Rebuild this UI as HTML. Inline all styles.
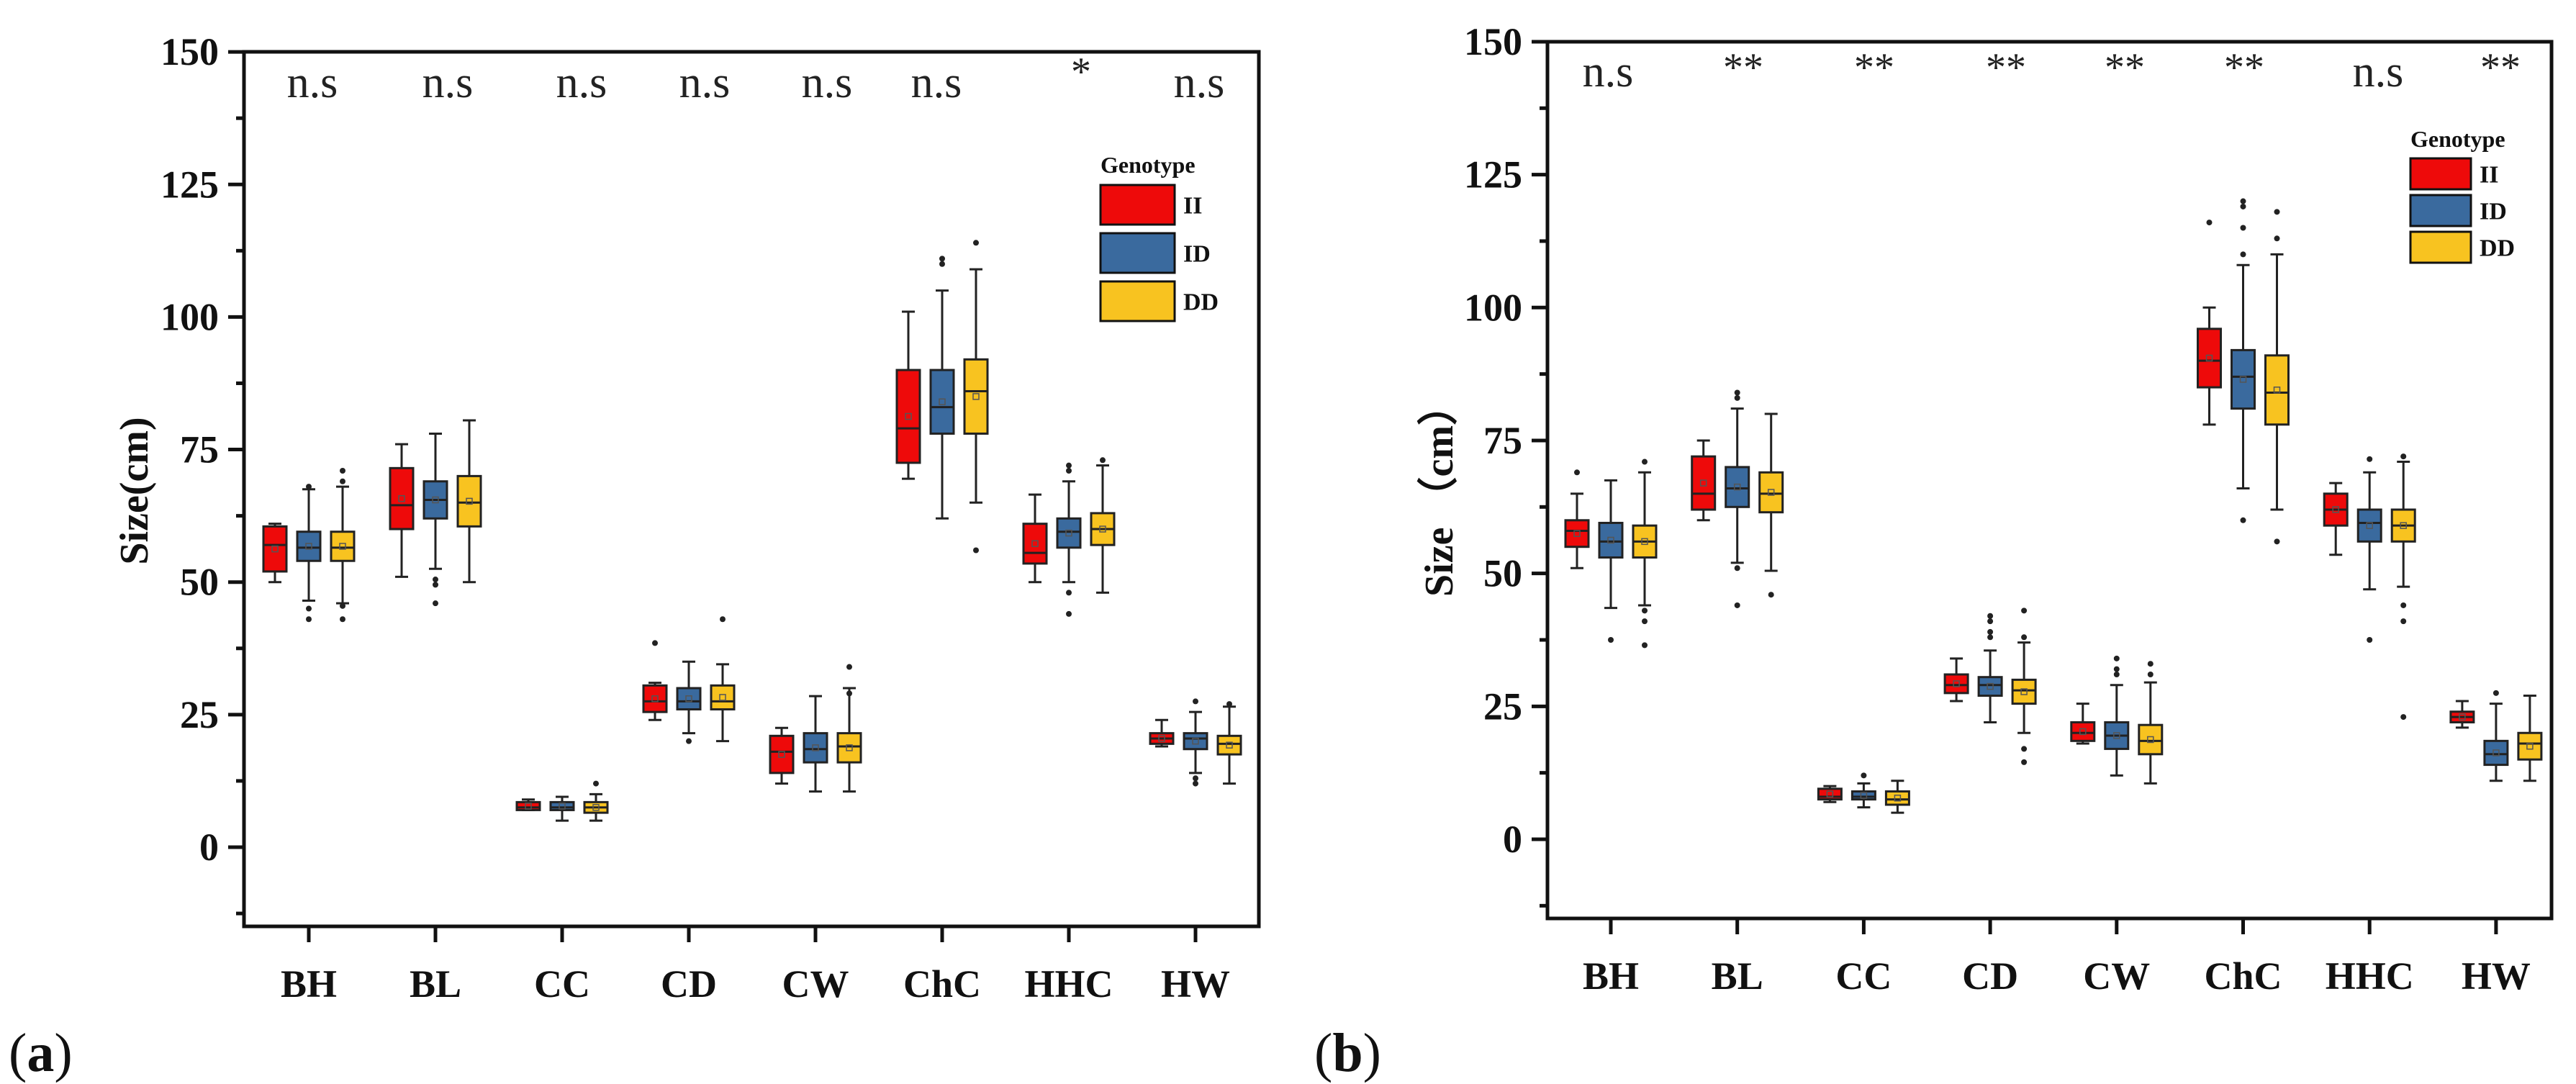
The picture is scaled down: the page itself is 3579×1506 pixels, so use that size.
<!DOCTYPE html>
<html><head><meta charset="utf-8"><style>
html,body{margin:0;padding:0;background:#fff;}
svg{display:block;font-family:"Liberation Serif","DejaVu Serif",serif;}
</style></head><body>
<svg id="fig" width="3579" height="1506" viewBox="0 0 3579 1506" xmlns="http://www.w3.org/2000/svg">
<rect width="3579" height="1506" fill="#fff"/>
</svg>
<script>
const categories = ["BH","BL","CC","CD","CW","ChC","HHC","HW"];
const genotypes = ["II","ID","DD"];
const yTicks = [0,25,50,75,100,125,150];
// [lowWhisker, q1, median, q3, highWhisker]
const aII = [[50,52,57,60.5,61],[51,60,64.5,71.5,76],[7,7,7.5,8.5,9],[24,25.5,27.5,30.5,31],[12,14,18,21,22.5],[69.5,72.5,79,90,101],[50,53.5,55.5,61,66.5],[19,19.5,20.5,21.5,24]];
const aID = [[46.5,54,56.5,59.5,67.5],[52.5,62,65.5,69,78],[5,7,7.5,8.5,9.5],[21.5,26,27.5,30,35],[10.5,16,18.5,21.5,28.5],[62,78,83,90,105],[50,56.5,59.5,62,69],[14,18.5,20.5,21.5,25.5]];
const aDD = [[46,54,56.5,59.5,68],[50,60.5,65,70,80.5],[5,6.5,7.5,8.5,10],[20,26,27.5,30.5,34.5],[10.5,16,19,21.5,30],[65,78,86,92,109],[48,57,60,63,72],[12,17.5,19.5,21,26.5]];
const aIIout = [[],[],[],[38.5],[],[],[],[]];
const aIDout = [[68,45,43],[50.5,49.5,46],[],[20],[],[110,111],[71,72,48,44],[27.5,13,12]];
const aDDout = [[71,69,45.5,43],[],[12],[43],[29,34],[56,114],[73],[27]];
const aSig = ["n.s","n.s","n.s","n.s","n.s","n.s","*","n.s"];

const bII = [[51,55,58,60,65],[60,62,65,72,75],[7,7.5,8,9.5,10],[26,27.5,29,31,34],[18,18.5,20,22,25.5],[78,85,90,96,100],[53.5,59,62,65,67],[21,22,23,24,26]];
const bID = [[43.5,53,56,59.5,67.5],[52,62.5,66,70,81],[6,7.5,8,9,10.5],[22,27,29,30.5,35.5],[12,17,19.5,22,29],[66,81,87,92,108],[47,56,59.5,62,69],[11,14,16,18.5,25.5]];
const bDD = [[44,53,56,59,69],[50.5,61.5,65,69,80],[5,6.5,7.5,9,11],[20,25.5,28,30,37],[10.5,16,18.5,21.5,29.5],[62,78,84,91,110],[47.5,56,59,62,71],[11,15,18,20,27]];
const bIIout = [[69],[],[],[],[],[116],[],[]];
const bIDout = [[37.5],[83,84,51,44],[12],[38,39,41,42],[31,32,34],[110,115,119,120,60],[71.5,37.5],[27.5]];
const bDDout = [[71,41,43,36.5],[46],[],[43,38,17,14.5],[31,33],[113,118,56],[72,44,41,23],[]];
const bSig = ["n.s","**","**","**","**","**","n.s","**"];

const colors = ["#ee0a0a","#3a6a9e","#f8c320"];
const NS="http://www.w3.org/2000/svg";
const svg=document.getElementById('fig');
function mk(tag,attrs,parent){const e=document.createElementNS(NS,tag);for(const k in attrs)e.setAttribute(k,attrs[k]);(parent||svg).appendChild(e);return e;}

function panel(cfg){
  const g=mk('g',{});
  
  
  const y=v=>cfg.y0-(v)*cfg.unit;
  const x=(i,k)=>cfg.cx0+i*cfg.step+(k-1)*47;
  const fr=mk('rect',{x:cfg.L,y:cfg.T,width:cfg.R-cfg.L,height:cfg.B-cfg.T,fill:'none',stroke:'#111','stroke-width':5},g);
  
  
  for(let v=-12.5;v<=150;v+=12.5){
    const major=(v%25===0);
    mk('line',{x1:cfg.L-(major?22:11),x2:cfg.L,y1:y(v),y2:y(v),stroke:'#111','stroke-width':5},g);
  }
  yTicks.forEach(v=>{
    const t=mk('text',{x:cfg.L-35,y:y(v)+18,'text-anchor':'end','font-size':54,'font-weight':'bold',fill:'#111'},g);
    t.textContent=v;
    
    
  });
  const yt=mk('text',{transform:`translate(${cfg.ytx},682) rotate(-90)`,'text-anchor':'middle','font-size':56,'font-weight':'bold',fill:'#111'},g);
  yt.textContent=cfg.ytitle;
  
  
  categories.forEach((c,i)=>{
    const cx=cfg.cx0+i*cfg.step;
    mk('line',{x1:cx,x2:cx,y1:cfg.B,y2:cfg.B+22,stroke:'#111','stroke-width':5},g);
    const t=mk('text',{x:cx,y:cfg.labY,'text-anchor':'middle','font-size':54,'font-weight':'bold',fill:'#111'},g);
    t.textContent=c;
    
    
    const s=mk('text',{x:cfg.sigX[i],y:cfg.sig[i]==='n.s'?cfg.nsY:cfg.stY,'text-anchor':'middle','font-size':cfg.sig[i]==='n.s'?62:56,fill:'#222'},g);
    s.textContent=cfg.sig[i];
    
    
  });
  const series=[cfg.II,cfg.ID,cfg.DD], outs=[cfg.IIo,cfg.IDo,cfg.DDo];
  const bw=32;
  series.forEach((ser,k)=>{
    ser.forEach((d,i)=>{
      const cx=x(i,k);
      const bg=mk('g',{},g);
      
      
      mk('line',{x1:cx,x2:cx,y1:y(d[0]),y2:y(d[4]),stroke:'#222','stroke-width':3},bg);
      mk('line',{x1:cx-9,x2:cx+9,y1:y(d[0]),y2:y(d[0]),stroke:'#222','stroke-width':3},bg);
      mk('line',{x1:cx-9,x2:cx+9,y1:y(d[4]),y2:y(d[4]),stroke:'#222','stroke-width':3},bg);
      mk('rect',{x:cx-bw/2,y:y(d[3]),width:bw,height:Math.max(2,y(d[1])-y(d[3])),fill:colors[k],stroke:'#222','stroke-width':3},bg);
      mk('line',{x1:cx-bw/2,x2:cx+bw/2,y1:y(d[2]),y2:y(d[2]),stroke:'#222','stroke-width':3},bg);
      mk('rect',{x:cx-4,y:y((d[1]+d[3])/2)-4,width:8,height:8,fill:'none',stroke:'#555','stroke-width':1.5},bg);
      outs[k][i].forEach(o=>{mk('circle',{cx:cx,cy:y(o),r:4,fill:'#222'},bg);});
    });
  });
  const lg=mk('g',{},g);
  
  
  const lt=mk('text',{x:cfg.lx,y:cfg.ly,'font-size':32,'font-weight':'bold',fill:'#111'},lg);
  lt.textContent='Genotype';
  genotypes.forEach((gt,k)=>{
    const e=mk('g',{},lg);
    
    
    const yy=cfg.ly+cfg.lgap0+k*cfg.lstep;
    mk('rect',{x:cfg.lx,y:yy,width:cfg.lw,height:cfg.lh,fill:colors[k],stroke:'#111','stroke-width':3},e);
    const t=mk('text',{x:cfg.lx+cfg.lw+12,y:yy+cfg.lh/2+12,'font-size':34,'font-weight':'bold',fill:'#111'},e);
    t.textContent=gt;
  });
  const pl=mk('text',{x:cfg.plx,y:1488,'font-size':76,fill:'#111'},g);
  pl.innerHTML='(<tspan font-weight="bold">'+cfg.plab+'</tspan>)';
  
  
}
panel({name:'panel-a',L:339,R:1749,T:72,B:1287,y0:1177,unit:7.366,cx0:429,step:176,ytx:205,ytitle:'Size(cm)',labY:1385,nsY:135,stY:118,sig:aSig,
  sigX:[434,622,808,979,1149,1301,1502,1666],
  II:aII,ID:aID,DD:aDD,IIo:aIIout,IDo:aIDout,DDo:aDDout,lx:1529,ly:240,lgap0:17,lstep:67,lw:103,lh:55,plx:12,plab:'a'});
panel({name:'panel-b',L:2150,R:3545,T:58,B:1276,y0:1166,unit:7.387,cx0:2238,step:175.7,ytx:2018,ytitle:'Size （cm）',labY:1374,nsY:120,stY:112,sig:bSig,
  sigX:[2234,2422,2604,2787,2952,3118,3304,3474],
  II:bII,ID:bID,DD:bDD,IIo:bIIout,IDo:bIDout,DDo:bDDout,lx:3349,ly:204,lgap0:16,lstep:51,lw:84,lh:43,plx:1826,plab:'b'});
</script>
</body></html>
